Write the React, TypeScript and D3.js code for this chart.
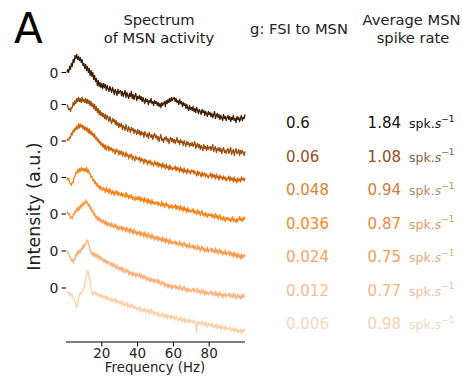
import React from "react";
import * as d3 from "d3";

// ---------- data ----------
const gValues = ["0.6", "0.06", "0.048", "0.036", "0.024", "0.012", "0.006"];
const rates = ["1.84", "1.08", "0.94", "0.87", "0.75", "0.77", "0.98"];
const traceColors = ["#3d1e05", "#9a4c0b", "#cf660d", "#fd8212", "#fb9a4c", "#fcb27c", "#fdcfa6"];
const gColors = ["#261708", "#95511c", "#e07f2c", "#f98a2c", "#f5a262", "#f6bb8f", "#f7d5bd"];
const rateColors = ["#111111", "#8e4e1c", "#d07c36", "#ea8a3c", "#f09e5c", "#f3b588", "#f5cfb3"];
const unitColors = ["#111111", "#8c5e3c", "#c0875a", "#d99a66", "#e8ab7e", "#efc09c", "#f3d4bf"];
// zero level of each spectrum (a.u.)
const offsets = [215.5, 183.5, 147, 110.5, 74, 37, 0];
const xTicks = [20, 40, 60, 80];
const freqs = d3.range(1, 201).map((i) => i / 2); // 0.5 .. 100 Hz

// intensity relative to each trace's zero (a.u.), one value per 0.5 Hz
const spec1 = [
  0, 3, 0, 6, 3, 9, 6, 13, 10, 17, 14, 18, 13, 16, 12, 15, 10, 13, 7, 9,
  4, 8, 2, 6, 0, 4, -3, 2, -4, 0, -7, -3, -9, -6, -13, -8, -14, -10, -15, -11,
  -16, -11, -15, -12, -18, -13, -16, -19, -14, -17, -20, -15, -18, -22, -17, -19, -23, -17, -21, -19,
  -18, -23, -19, -24, -21, -18, -25, -20, -23, -26, -21, -24, -19, -26, -22, -27, -23, -21, -28, -24,
  -26, -23, -27, -24, -29, -25, -28, -31, -26, -29, -27, -32, -28, -30, -26, -31, -29, -33, -28, -31,
  -29, -33, -30, -34, -31, -35, -30, -33, -31, -29, -34, -28, -31, -27, -30, -26, -29, -25, -28, -26,
  -25, -29, -26, -30, -28, -32, -27, -31, -29, -34, -30, -33, -31, -36, -32, -35, -38, -33, -37, -35,
  -38, -34, -39, -36, -40, -35, -38, -41, -37, -39, -42, -37, -40, -38, -43, -39, -41, -44, -39, -42,
  -40, -44, -41, -45, -42, -39, -46, -43, -41, -45, -42, -47, -43, -45, -48, -42, -46, -44, -48, -45,
  -43, -47, -44, -49, -45, -47, -43, -48, -46, -50, -44, -47, -45, -49, -46, -43, -48, -45, -46, -42,
];
const spec2 = [
  0, -2, -5, -4, -7, -3, -3, 2, -1, 4, 1, 6, 3, 7, 3, 6, 2, 7, 3, 5,
  2, 6, 1, 5, 1, 4, -1, 3, -2, 1, -4, 0, -6, -2, -8, -4, -10, -6, -11, -8,
  -12, -9, -14, -10, -15, -11, -13, -17, -12, -16, -19, -14, -17, -15, -20, -16, -21, -18, -23, -19,
  -22, -19, -25, -21, -23, -26, -20, -24, -27, -22, -25, -28, -23, -26, -24, -29, -25, -27, -30, -25,
  -29, -26, -31, -27, -30, -28, -33, -27, -30, -32, -29, -34, -28, -31, -33, -30, -35, -31, -29, -33,
  -31, -35, -32, -37, -33, -30, -36, -34, -38, -33, -35, -32, -37, -34, -39, -35, -33, -37, -34, -38,
  -35, -39, -36, -33, -38, -36, -40, -35, -38, -37, -41, -36, -39, -42, -37, -40, -38, -42, -39, -41,
  -38, -42, -40, -37, -44, -41, -39, -43, -40, -45, -41, -43, -46, -40, -44, -42, -46, -41, -45, -43,
  -42, -46, -43, -40, -47, -44, -42, -48, -44, -46, -43, -47, -44, -49, -45, -43, -48, -46, -49, -45,
  -44, -49, -46, -43, -50, -47, -45, -51, -47, -44, -49, -48, -45, -51, -46, -49, -46, -48, -51, -47,
];
const spec3 = [
  0, 2, 1, 4, 3, 8, 6, 11, 9, 13, 11, 15, 12, 17, 13, 17, 14, 16, 12, 15,
  11, 14, 10, 13, 8, 12, 7, 10, 6, 8, 4, 7, 2, 4, 0, 2, -2, 0, -4, -2,
  -6, -3, -8, -4, -9, -6, -5, -10, -6, -9, -7, -11, -8, -10, -13, -8, -11, -9, -14, -10,
  -13, -10, -15, -11, -14, -16, -11, -15, -13, -18, -14, -16, -13, -19, -15, -17, -20, -15, -18, -17,
  -19, -16, -21, -17, -20, -18, -23, -18, -21, -19, -24, -20, -22, -19, -24, -21, -23, -25, -20, -23,
  -24, -21, -26, -22, -25, -23, -27, -22, -26, -24, -28, -23, -27, -25, -29, -24, -28, -26, -29, -27,
  -28, -25, -30, -26, -29, -27, -31, -26, -30, -28, -32, -27, -31, -29, -33, -28, -31, -30, -33, -29,
  -31, -29, -33, -30, -32, -35, -30, -34, -31, -33, -36, -31, -35, -33, -32, -36, -33, -35, -37, -34,
  -35, -32, -37, -33, -36, -34, -38, -33, -37, -35, -39, -34, -37, -36, -39, -35, -38, -36, -40, -37,
  -38, -35, -40, -36, -39, -37, -41, -36, -40, -38, -42, -37, -40, -38, -41, -36, -39, -37, -40, -37,
];
const spec4 = [
  0, -2, -1, -5, -6, -8, -5, -5, 0, 1, 5, 4, 8, 5, 9, 6, 10, 7, 9, 6,
  9, 6, 10, 5, 8, 4, 4, 0, 1, -3, -2, -6, -4, -8, -6, -10, -8, -12, -9, -11,
  -13, -10, -12, -15, -10, -14, -12, -16, -11, -14, -17, -13, -15, -18, -14, -16, -13, -18, -15, -17,
  -18, -15, -19, -16, -18, -20, -15, -19, -17, -21, -18, -20, -17, -22, -19, -21, -23, -19, -22, -20,
  -22, -19, -24, -20, -23, -21, -25, -20, -24, -22, -26, -21, -25, -23, -27, -22, -26, -24, -27, -25,
  -26, -24, -28, -25, -27, -29, -24, -28, -26, -30, -27, -25, -29, -27, -31, -28, -30, -27, -31, -29,
  -30, -27, -32, -28, -31, -29, -33, -28, -32, -30, -34, -29, -33, -31, -35, -30, -34, -32, -35, -33,
  -34, -31, -36, -33, -35, -37, -32, -36, -34, -38, -35, -33, -38, -36, -39, -35, -37, -40, -36, -38,
  -38, -36, -40, -37, -39, -41, -36, -40, -38, -42, -39, -37, -42, -40, -43, -39, -41, -44, -40, -42,
  -40, -43, -41, -44, -42, -39, -44, -41, -43, -45, -41, -44, -42, -39, -43, -41, -44, -40, -42, -39,
];
const spec5 = [
  0, 2, -1, 0, -4, -3, -5, 0, -1, 3, 1, 6, 3, 7, 4, 9, 6, 11, 8, 12,
  10, 14, 11, 12, 8, 10, 5, 7, 2, 4, -1, 1, -4, -2, -6, -3, -7, -4, -8, -6,
  -9, -6, -10, -7, -11, -8, -12, -9, -10, -13, -9, -12, -14, -10, -13, -11, -15, -12, -16, -13,
  -15, -12, -17, -13, -16, -14, -18, -13, -17, -15, -19, -14, -18, -16, -20, -15, -19, -17, -21, -18,
  -20, -17, -22, -18, -21, -19, -23, -18, -22, -20, -24, -19, -23, -21, -25, -20, -24, -22, -26, -23,
  -25, -22, -27, -23, -26, -24, -28, -23, -27, -25, -29, -24, -28, -26, -30, -25, -29, -27, -30, -28,
  -29, -27, -31, -28, -30, -32, -27, -31, -29, -33, -30, -28, -32, -30, -34, -31, -33, -29, -34, -32,
  -33, -31, -35, -32, -34, -36, -31, -35, -33, -37, -34, -32, -36, -34, -38, -35, -37, -33, -38, -36,
  -36, -34, -38, -35, -37, -39, -34, -38, -36, -40, -37, -35, -39, -37, -41, -38, -40, -36, -41, -39,
  -40, -37, -42, -38, -41, -39, -43, -38, -42, -40, -44, -39, -43, -41, -45, -40, -44, -41, -43, -40,
];
const spec6 = [
  0, -2, -2, -6, -6, -10, -8, -12, -8, -9, -3, -5, 0, -3, 1, -2, 3, 1, 6, 3,
  7, 6, 11, 10, 8, 5, 0, -1, -4, -1, -5, -2, -6, -3, -7, -4, -8, -5, -9, -7,
  -8, -11, -8, -12, -9, -13, -10, -12, -14, -11, -15, -12, -16, -13, -15, -18, -14, -17, -19, -16,
  -19, -16, -21, -17, -20, -22, -18, -21, -19, -24, -20, -23, -21, -25, -21, -24, -22, -26, -22, -25,
  -25, -22, -27, -23, -26, -28, -24, -27, -25, -30, -26, -29, -27, -31, -27, -30, -28, -32, -28, -31,
  -31, -28, -33, -29, -32, -34, -30, -33, -31, -36, -32, -35, -33, -37, -33, -36, -34, -38, -34, -37,
  -36, -34, -38, -35, -37, -39, -34, -38, -36, -40, -37, -35, -39, -37, -41, -37, -40, -38, -41, -39,
  -39, -37, -41, -38, -40, -42, -37, -41, -39, -43, -40, -38, -42, -40, -44, -40, -43, -41, -44, -42,
  -42, -40, -44, -41, -43, -45, -40, -44, -42, -46, -43, -41, -45, -43, -47, -43, -45, -42, -46, -44,
  -44, -42, -46, -43, -45, -47, -42, -46, -44, -48, -45, -43, -47, -45, -48, -44, -47, -43, -46, -45,
];
const spec7 = [
  -3, -5, -4, -7, -5, -8, -7, -10, -11, -15, -16, -20, -16, -10, -8, -5, -6, -3, -3, 1,
  3, 9, 13, 17, 16, 9, 5, -1, -4, -7, -4, -6, -4, -7, -5, -8, -6, -9, -6, -10,
  -7, -10, -8, -11, -8, -12, -9, -11, -13, -10, -13, -11, -14, -12, -10, -15, -12, -14, -16, -13,
  -14, -17, -13, -16, -18, -15, -17, -14, -19, -16, -18, -20, -16, -19, -17, -21, -18, -20, -22, -19,
  -20, -23, -19, -22, -24, -21, -23, -20, -25, -22, -24, -21, -26, -23, -21, -25, -23, -27, -24, -26,
  -25, -28, -24, -27, -29, -26, -28, -25, -30, -27, -29, -26, -31, -27, -29, -28, -31, -27, -30, -29,
  -29, -32, -28, -31, -33, -30, -32, -29, -34, -31, -33, -30, -35, -31, -33, -32, -35, -31, -34, -33,
  -33, -35, -32, -34, -36, -44, -33, -36, -34, -37, -35, -33, -37, -35, -38, -34, -37, -39, -35, -37,
  -36, -39, -35, -38, -40, -37, -39, -36, -41, -38, -40, -37, -42, -38, -40, -39, -42, -38, -41, -40,
  -40, -42, -39, -41, -43, -40, -42, -44, -40, -43, -41, -45, -42, -44, -41, -46, -42, -44, -41, -43,
];
const spectra = [spec1, spec2, spec3, spec4, spec5, spec6, spec7];

// ---------- layout ----------
const W = 462;
const H = 379;
const FONT = "DejaVu Sans, sans-serif";

export default function App() {
  const x = d3.scaleLinear().domain([0, 100]).range([66, 245]);
  const y = d3.scaleLinear().domain([-54, 238]).range([342, 50]);
  const rowY = d3.scaleLinear().domain([0, 6]).range([128, 329]);

  return (
    <svg
      width={W}
      height={H}
      style={{ position: "absolute", left: 0, top: 0, background: "#fff" }}
      fontFamily={FONT}
    >
      {/* panel letter */}
      <text x={14} y={43} fontSize={42} fill="#000">A</text>

      {/* column titles */}
      <text x={159} y={25} fontSize={14.7} textAnchor="middle" fill="#222">Spectrum</text>
      <text x={159} y={43} fontSize={14.7} textAnchor="middle" fill="#222">of MSN activity</text>
      <text x={299} y={33.5} fontSize={14.7} textAnchor="middle" fill="#222">g: FSI to MSN</text>
      <text x={411.5} y={25} fontSize={14.7} textAnchor="middle" fill="#222">Average MSN</text>
      <text x={413} y={43} fontSize={14.7} textAnchor="middle" fill="#222">spike rate</text>

      {/* spectra */}
      {spectra.map((vals, i) => {
        const line = d3
          .line<number>()
          .x((_, k) => x(freqs[k]))
          .y((v) => y(v + offsets[i]));
        return (
          <path
            key={i}
            d={line(vals) || ""}
            fill="none"
            stroke={traceColors[i]}
            strokeWidth={1.3}
            strokeLinejoin="round"
          />
        );
      })}

      {/* y ticks (zero of each trace) */}
      {offsets.map((o, i) => (
        <g key={i} transform={`translate(0,${y(o)})`}>
          <line x1={61.5} x2={66} stroke="#000" strokeWidth={1} />
          <text x={58.5} dy="0.36em" fontSize={14} textAnchor="end" fill="#222">0</text>
        </g>
      ))}

      {/* x axis */}
      <line x1={x(0)} x2={x(100)} y1={342} y2={342} stroke="#000" strokeWidth={1.1} />
      {xTicks.map((t) => (
        <g key={t} transform={`translate(${x(t)},342)`}>
          <line y1={0} y2={4.5} stroke="#000" strokeWidth={1} />
          <text y={15.5} fontSize={13.5} textAnchor="middle" fill="#222">{t}</text>
        </g>
      ))}
      <text x={155} y={372} fontSize={13.3} textAnchor="middle" fill="#222">Frequency (Hz)</text>
      <text
        transform={`translate(39.5,206.5) rotate(-90)`}
        fontSize={17.5}
        textAnchor="middle"
        fill="#222"
      >
        Intensity (a.u.)
      </text>

      {/* right columns */}
      {gValues.map((g, i) => (
        <g key={i}>
          <text x={286} y={rowY(i)} fontSize={15} fill={gColors[i]}>{g}</text>
          <text x={401} y={rowY(i)} fontSize={15} textAnchor="end" fill={rateColors[i]}>{rates[i]}</text>
          <text x={409} y={rowY(i)} fontSize={12.5} fill={unitColors[i]}>
            spk.<tspan fontStyle="italic">s</tspan>
            <tspan dy={-6.5} fontSize={9}>−1</tspan>
          </text>
        </g>
      ))}
    </svg>
  );
}
